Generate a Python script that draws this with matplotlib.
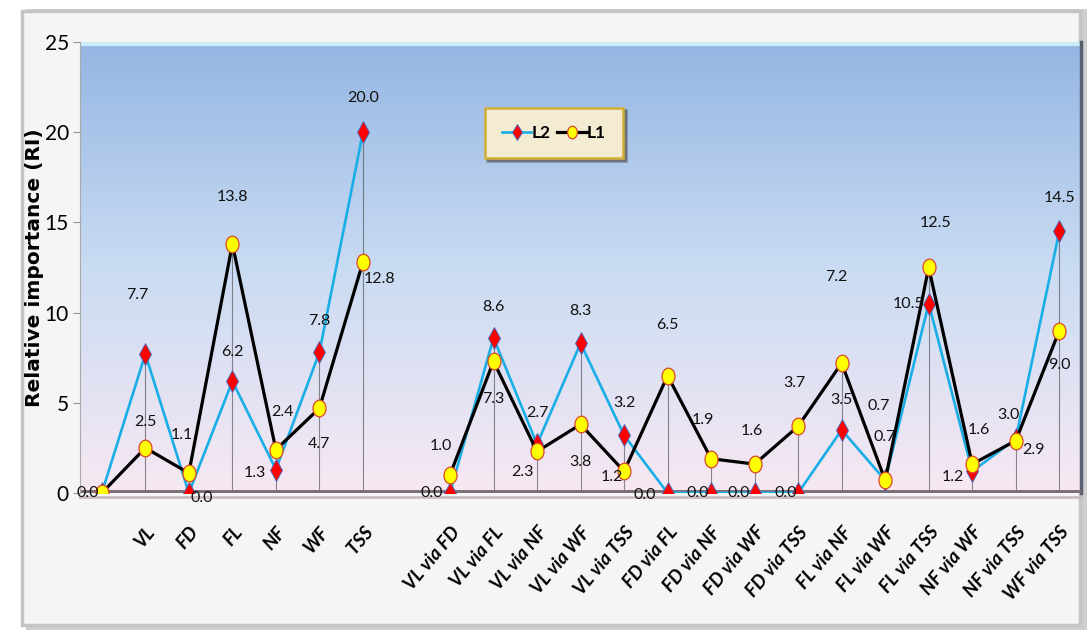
import numpy as np
import matplotlib
matplotlib.use("Agg")
import matplotlib.pyplot as plt
from matplotlib.path import Path
from matplotlib.patches import Rectangle

# ---------------------------------------------------------------------------
# Data
# ---------------------------------------------------------------------------
categories = ["", "VL", "FD", "FL", "NF", "WF", "TSS", "",
              "VL via FD", "VL via FL", "VL via NF", "VL via WF", "VL via TSS",
              "FD via FL", "FD via NF", "FD via WF", "FD via TSS",
              "FL via NF", "FL via WF", "FL via TSS",
              "NF via WF", "NF via TSS", "WF via TSS"]

l2_values = [0.0, 7.7, 0.0, 6.2, 1.3, 7.8, 20.0, np.nan,
             0.0, 8.6, 2.7, 8.3, 3.2,
             0.0, 0.0, 0.0, 0.0,
             3.5, 0.7, 10.5,
             1.2, 3.0, 14.5]

l1_values = [0.0, 2.5, 1.1, 13.8, 2.4, 4.7, 12.8, np.nan,
             1.0, 7.3, 2.3, 3.8, 1.2,
             6.5, 1.9, 1.6, 3.7,
             7.2, 0.7, 12.5,
             1.6, 2.9, 9.0]

# label offsets in pixels (dx, dy), None = no label
l2_offsets = [(-14, 0), (-8, 59), (13, -5), (0, 29), (-21, -3), (0, 31), (0, 34), None,
              (-18, 0), (0, 31), (0, 31), (0, 32), (0, 32),
              (-23, -2), (-13, 0), (-16, 0), (-12, 0),
              (0, 30), (-7, 74), (-20, 0),
              (-19, -6), (-7, 24), (0, 33)]
l1_offsets = [None, (0, 26), (-7, 38), (0, 47), (7, 38), (0, -36), (17, -17), None,
              (-9, 29), (0, -38), (-15, -21), (0, -38), (-12, -6),
              (0, 51), (-8, 39), (-3, 33), (-4, 43),
              (-5, 86), (-1, 43), (7, 44),
              (7, 34), (18, -9), (0, -34)]

plt.rcParams["font.family"] = ["Lato", "DejaVu Sans"]

x = np.arange(len(categories))

fig = plt.figure(figsize=(10.89, 6.33), dpi=100)
fig.patch.set_facecolor("white")

# outer chart frame with shadow
fig.patches.append(Rectangle((0.024, 0.004), 0.974, 0.982, transform=fig.transFigure,
                             facecolor="#cfcfcf", edgecolor="none", zorder=-2))
fig.patches.append(Rectangle((0.020, 0.012), 0.972, 0.970, transform=fig.transFigure,
                             facecolor="#f5f5f5", edgecolor="#c4c4c4", linewidth=2.5, zorder=-1))

ax = fig.add_axes([0.0735, 0.2212, 0.9192, 0.7125])
ax.set_facecolor("none")

# gradient plot area: blue on top to pale pink at the bottom
grad = np.linspace(0, 1, 256)[:, None]
top = np.array([0.58, 0.71, 0.89])
mid = np.array([0.79, 0.86, 0.95])
bot = np.array([0.97, 0.91, 0.95])
cols = np.where(grad[..., None] < 0.5,
                top + (mid - top) * (grad[..., None] / 0.5),
                mid + (bot - mid) * ((grad[..., None] - 0.5) / 0.5))
ax.imshow(cols, extent=[0, 1, 0, 1], transform=ax.transAxes, aspect="auto", zorder=0)
ax.plot([0, 1], [0.995, 0.995], transform=ax.transAxes, color="#c8ecf8", lw=3, zorder=1)
ax.plot([1, 1], [0, 1], transform=ax.transAxes, color="#5a5f70", lw=2.5, zorder=1, clip_on=False)

# drop lines
for xi, a, b in zip(x, l2_values, l1_values):
    if np.isnan(a) or xi == 0:
        continue
    ax.vlines(xi, 0, max(a, b), color="#333333", lw=0.8, alpha=0.55, zorder=2)

# floor band
ax.axhline(0, color="#7d6f77", lw=5, zorder=2)
ax.axhline(-0.22, color="#c9bcc4", lw=2, zorder=2, clip_on=False)

ellipse = Path(Path.unit_circle().vertices * [0.78, 1.0], Path.unit_circle().codes)

ax.plot(x, l2_values, color="#19aee6", lw=1.9, marker="d", markersize=11,
        markerfacecolor="#ff0000", markeredgecolor="#3a6ec8", markeredgewidth=0.6,
        label="L2", zorder=3)
ax.plot(x, l1_values, color="black", lw=2.3, marker=ellipse, markersize=12,
        markerfacecolor="#ffff00", markeredgecolor="#d8482a", markeredgewidth=0.9,
        label="L1", zorder=4)

for vals, offs in ((l2_values, l2_offsets), (l1_values, l1_offsets)):
    for xi, v, off in zip(x, vals, offs):
        if off is None or np.isnan(v):
            continue
        ax.annotate(f"{v:.1f}", (xi, v), xytext=off, textcoords="offset pixels",
                    ha="center", va="center", fontsize=11.5, color="#111111", zorder=6)

ax.set_xlim(-0.5, len(categories) - 0.5)
ax.set_ylim(0, 25)
ax.set_yticks([0, 5, 10, 15, 20, 25])
ax.tick_params(axis="y", labelsize=15, length=5, color="#999999", pad=3)
ax.set_xticks(x)
ax.set_xticklabels(categories, rotation=50, ha="right", rotation_mode="anchor",
                   fontsize=13.5, fontweight="bold", fontstyle="italic")
ax.tick_params(axis="x", length=0, pad=22)
for s in ["top", "right", "bottom"]:
    ax.spines[s].set_visible(False)
ax.spines["left"].set_color("#aaaaaa")

ax.set_ylabel("Relative importance (RI)", fontsize=14.5, fontweight="bold",
              family="DejaVu Sans")
ax.yaxis.set_label_coords(-0.036, 0.50)

leg = ax.legend(loc="center", bbox_to_anchor=(0.4735, 0.798), ncol=2,
                handlelength=1.7, handletextpad=0.0, columnspacing=0.4,
                markerscale=0.75, borderpad=1.0, borderaxespad=0,
                fancybox=False, framealpha=1, shadow=True,
                prop={"weight": "bold", "size": 12.5})
leg.get_frame().set_facecolor("#f3ecd2")
leg.get_frame().set_edgecolor("#d2ae34")
leg.get_frame().set_linewidth(1.8)
leg.set_zorder(7)

plt.savefig("out.png", dpi=100, facecolor="white")
